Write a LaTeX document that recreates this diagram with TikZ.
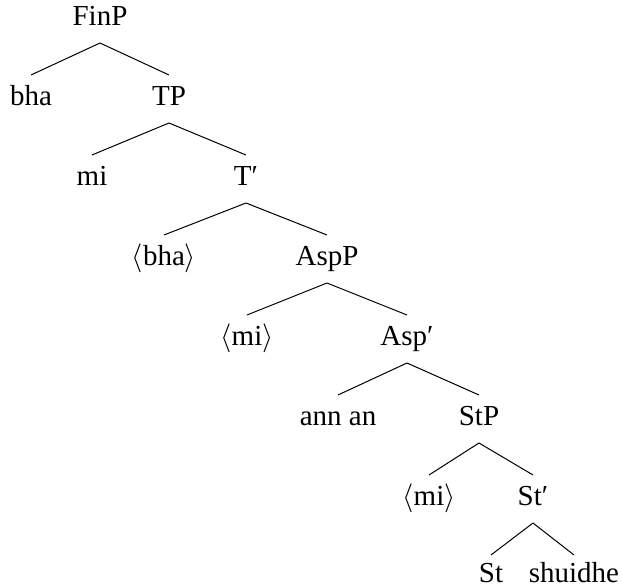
\documentclass[tikz,border=0pt]{standalone}
\usepackage{fontspec}
\setmainfont{Liberation Serif}
\begin{document}
\begin{tikzpicture}[x=0.5pt,y=-0.5pt,
  lbl/.style={anchor=base, inner sep=0pt, font=\fontsize{14.5pt}{17pt}\selectfont},
  edge/.style={line width=0.5pt}]
\useasboundingbox (0,0) rectangle (622,588);
% labels (x = branch end, y = baseline)
\node[lbl] (finp) at (100,26) {FinP};
\node[lbl] (bha) at (31,106) {bha};
\node[lbl] (tp) at (169,106) {TP};
\node[lbl] (mi1) at (92,186) {mi};
\node[lbl] (tbar) at (246,186) {T′};
\node[lbl] (bhat) at (164,266) {$\langle$bha$\rangle$};
\node[lbl] (aspp) at (327,266) {AspP};
\node[lbl] (mit1) at (247,346) {$\langle$mi$\rangle$};
\node[lbl] (aspbar) at (407,346) {Asp′};
\node[lbl] (annan) at (338,426) {ann an};
\node[lbl] (stp) at (479,426) {StP};
\node[lbl] (mit2) at (429,506) {$\langle$mi$\rangle$};
\node[lbl] (stbar) at (533,506) {St′};
\node[lbl] (st) at (491,582) {St};
\node[lbl] (shuidhe) at (574,582) {shuidhe};
% branches: from below the mother's baseline to above the daughter's
\newcommand\branch[2]{\draw[edge] ([yshift=-8.5pt]#1.base) -- ([yshift=15.5pt]#2.base);}
\branch{finp}{bha}\branch{finp}{tp}
\branch{tp}{mi1}\branch{tp}{tbar}
\branch{tbar}{bhat}\branch{tbar}{aspp}
\branch{aspp}{mit1}\branch{aspp}{aspbar}
\branch{aspbar}{annan}\branch{aspbar}{stp}
\branch{stp}{mit2}\branch{stp}{stbar}
\draw[edge] ([yshift=-8.5pt]stbar.base) -- ([yshift=13.5pt]st.base);
\draw[edge] ([yshift=-8.5pt]stbar.base) -- ([yshift=13.5pt]shuidhe.base);
\end{tikzpicture}
\end{document}
